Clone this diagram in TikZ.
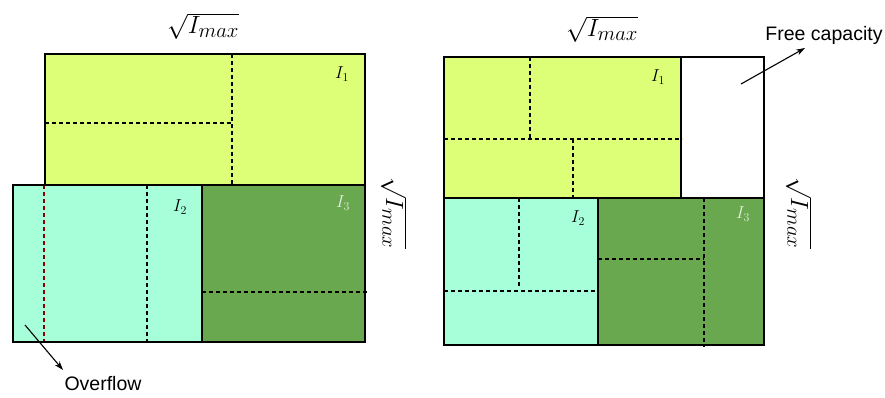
\documentclass[tikz,border=0pt]{standalone}
\usepackage{fontspec}
\setsansfont{Liberation Sans}
\usetikzlibrary{arrows.meta}
\definecolor{limeA}{RGB}{221,255,119}
\definecolor{aquaB}{RGB}{166,255,217}
\definecolor{greenC}{RGB}{106,168,79}
\tikzset{
  blk/.style={draw=black, line width=1.1pt},
  cut/.style={draw=black, line width=1.1pt, dash pattern=on 4pt off 3pt},
  redcut/.style={draw=red!55!black, line width=1.1pt, dash pattern=on 4pt off 3pt},
  lbl/.style={font=\fontsize{17}{20}\selectfont, inner sep=0pt},
  dim/.style={font=\fontsize{28}{32}\selectfont, inner sep=0pt},
  note/.style={font=\sffamily\fontsize{19.5}{23}\selectfont, inner sep=0pt},
  pointer/.style={-{Stealth[length=9pt,width=6pt]}, line width=1.1pt}
}
\begin{document}
\begin{tikzpicture}[x=1pt,y=-1pt]
\useasboundingbox (0,0) rectangle (885,398);

% ---------- left packing (overflow) ----------
\fill[limeA] (45,54) rectangle (365,185);
\fill[aquaB] (13,185) rectangle (202,342);
\fill[greenC] (202,185) rectangle (365,342);
\draw[cut] (232,54) -- (232,185);
\draw[cut] (45,123) -- (232,123);
\draw[cut] (147,185) -- (147,342);
\draw[cut] (202,292) -- (367,292);
\draw[redcut] (44,185) -- (44,342);
\draw[blk] (45,54) rectangle (365,185);
\draw[blk] (13,185) rectangle (202,342);
\draw[blk] (202,185) rectangle (365,342);
\node[lbl] (l1) at (342,74) {$I_1$};
\node[lbl] (l2) at (180,207) {$I_2$};
\node[lbl, text=white!80!greenC] (l3) at (343,203) {$I_3$};
\node[dim] (ltop) at (203,26) {$\sqrt{I_{max}}$};
\node[dim, rotate=-90] (lside) at (394,213) {$\sqrt{I_{max}}$};
\coordinate (ofs) at (25,325);
\coordinate (ofe) at (63,370);
\node[note] (ovf) at (103,384) {Overflow};
\draw[pointer] (ofs) -- (ofe);

% ---------- right packing (free capacity) ----------
\fill[limeA] (444,57) rectangle (681,198);
\fill[white] (681,57) rectangle (764,198);
\fill[aquaB] (444,198) rectangle (598,345);
\fill[greenC] (598,198) rectangle (764,345);
\draw[cut] (530,57) -- (530,139);
\draw[cut] (444,139) -- (682,139);
\draw[cut] (573,139) -- (573,198);
\draw[cut] (519,198) -- (519,286);
\draw[cut] (444,291) -- (598,291);
\draw[cut] (598,259) -- (704,259);
\draw[cut] (704,198) -- (704,347);
\draw[blk] (444,57) rectangle (764,345);
\draw[blk] (444,198) -- (764,198);
\draw[blk] (681,57) -- (681,198);
\draw[blk] (598,198) -- (598,345);
\node[lbl] (r1) at (658,77) {$I_1$};
\node[lbl] (r2) at (578,218) {$I_2$};
\node[lbl, text=white!80!greenC] (r3) at (743,214) {$I_3$};
\node[dim] (rtop) at (602,29) {$\sqrt{I_{max}}$};
\node[dim, rotate=-90] (rside) at (799,213) {$\sqrt{I_{max}}$};
\coordinate (fcs) at (741,84);
\coordinate (fce) at (805,48);
\node[note] (free) at (824,35) {Free capacity};
\draw[pointer] (fcs) -- (fce);
\end{tikzpicture}
\end{document}
